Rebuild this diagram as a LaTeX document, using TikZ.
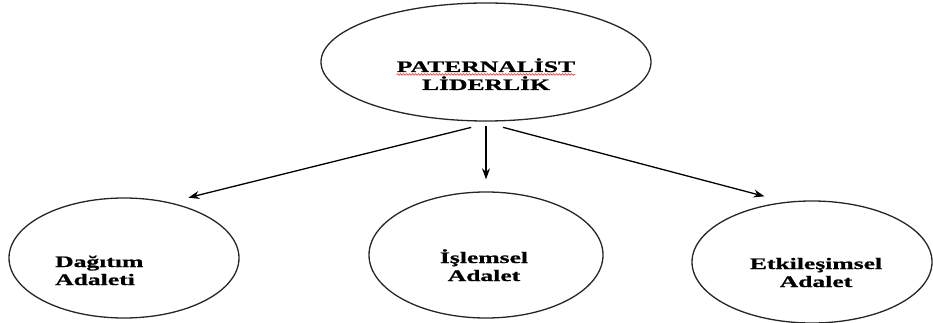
\documentclass[tikz,border=0pt]{standalone}
\usepackage{fontspec}
\newfontfamily\lblfont[FakeStretch=1.6,FakeBold=1]{Liberation Serif}
\usetikzlibrary{shapes.geometric}
\usetikzlibrary{arrows.meta}
\usetikzlibrary{decorations.pathmorphing}

\begin{document}
\begin{tikzpicture}[x=1pt,y=-1pt,
  oval/.style={draw=black!85, ellipse, line width=1.3pt, inner sep=0pt},
  lbl/.style={inner sep=0pt, font=\lblfont\bfseries\fontsize{16}{18}\selectfont},
  arr/.style={-{Stealth[length=11pt,width=8pt]}, line width=1.3pt}]
\useasboundingbox (0,0) rectangle (933,323);
% ellipses
\node[oval, minimum width=330pt, minimum height=118pt] (pl) at (486,62)  {};
\node[oval, minimum width=230pt, minimum height=120pt] (da) at (124,258) {};
\node[oval, minimum width=234pt, minimum height=126pt] (ia) at (486,255) {};
\node[oval, minimum width=240pt, minimum height=122pt] (ea) at (812,262) {};
% texts (base = last line)
\node[lbl, align=center, anchor=base] (pl-t) at (486,90) {PATERNALİST\\LİDERLİK};
\node[lbl, align=left, anchor=base west] (da-t) at (55,285) {Dağıtım\\Adaleti};
\node[lbl, align=center, anchor=base] (ia-t) at (484,281) {İşlemsel\\Adalet};
\node[lbl, align=center, anchor=base] (ea-t) at (816,287) {Etkileşimsel\\Adalet};
\draw[red, line width=0.5pt, decorate, decoration={snake, amplitude=0.8pt, segment length=3pt}]
  ([yshift=15.5pt]pl-t.base west) -- ([yshift=15.5pt]pl-t.base east);
% arrows
\draw[arr] ([yshift=-6pt]pl.256) -- ([yshift=10pt]da.38);
\draw[arr] ([yshift=-4pt]pl.south) -- ([yshift=12pt]ia.north);
\draw[arr] ([yshift=-6pt]pl.286) -- ([yshift=9pt]ea.130);
\end{tikzpicture}
\end{document}
